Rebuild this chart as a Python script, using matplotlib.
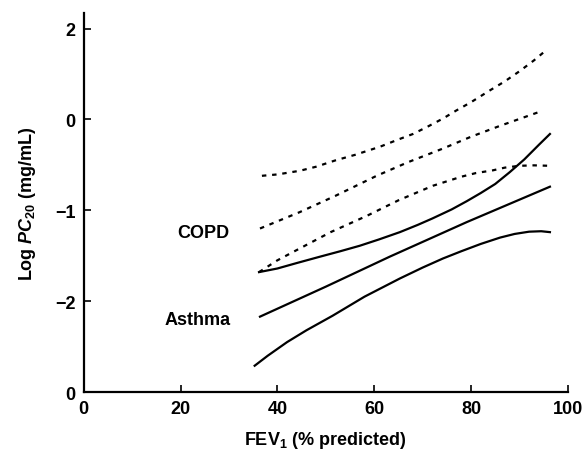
import matplotlib.pyplot as plt

# Data (FEV1 % predicted vs log PC20)
copd_upper_x = [36.8, 40, 44.6, 48, 52, 56, 61.2, 65, 68, 71, 74.2, 77, 80, 83.9, 87, 90, 93, 95.7]
copd_upper_y = [-0.62, -0.605, -0.565, -0.52, -0.45, -0.39, -0.30, -0.22, -0.16, -0.08,
                0.01, 0.10, 0.19, 0.32, 0.42, 0.53, 0.65, 0.77]
copd_mean_x = [36.4, 44.6, 52, 60.5, 67, 74.2, 80, 86, 94.2]
copd_mean_y = [-1.20, -1.02, -0.84, -0.62, -0.47, -0.32, -0.19, -0.07, 0.085]
copd_lower_x = [36.2, 40, 44.6, 51, 58.5, 65, 72.1, 78, 81, 84.5, 87, 90, 93, 96.3]
copd_lower_y = [-1.68, -1.55, -1.42, -1.24, -1.06, -0.89, -0.73, -0.63, -0.59, -0.56,
                -0.53, -0.51, -0.505, -0.51]

asthma_upper_x = [36.2, 40, 44, 48.8, 53, 57, 61, 65.3, 69, 72, 76, 79.1, 82, 85, 88, 91, 94, 96.3]
asthma_upper_y = [-1.68, -1.64, -1.58, -1.51, -1.45, -1.39, -1.32, -1.24, -1.16, -1.09,
                  -0.99, -0.90, -0.81, -0.71, -0.58, -0.44, -0.28, -0.16]
asthma_mean_x = [36.4, 50, 63.2, 79.1, 96.3]
asthma_mean_y = [-2.17, -1.84, -1.51, -1.13, -0.74]
asthma_lower_x = [35.3, 38, 42, 46, 51.4, 58, 65.3, 70, 74.2, 78, 82, 86, 89, 92, 94.5, 96.3]
asthma_lower_y = [-2.71, -2.60, -2.45, -2.32, -2.16, -1.95, -1.75, -1.63, -1.53, -1.45,
                  -1.37, -1.30, -1.26, -1.235, -1.23, -1.24]

x_ticks = [0, 20, 40, 60, 80, 100]
y_ticks = [1, 0, -1, -2, -3]
y_tick_labels = ["2", "0", "\u22121", "\u22122", "0"]

plt.rcParams["font.family"] = ["Liberation Sans", "DejaVu Sans"]
plt.rcParams["font.weight"] = "bold"
plt.rcParams["axes.labelweight"] = "bold"
plt.rcParams["mathtext.fontset"] = "custom"
plt.rcParams["mathtext.rm"] = "Liberation Sans:bold"
plt.rcParams["mathtext.it"] = "Liberation Sans:italic:bold"
plt.rcParams["mathtext.bf"] = "Liberation Sans:bold"

fig = plt.figure(figsize=(5.86, 4.56), dpi=100)
ax = fig.add_axes([0.143, 0.138, 0.826, 0.831])

dotted = (0, (2, 2.6))
ax.plot(copd_upper_x, copd_upper_y, color="black", lw=1.6, linestyle=dotted)
ax.plot(copd_mean_x, copd_mean_y, color="black", lw=1.6, linestyle=dotted)
ax.plot(copd_lower_x, copd_lower_y, color="black", lw=1.6, linestyle=dotted)
ax.plot(asthma_upper_x, asthma_upper_y, color="black", lw=1.6)
ax.plot(asthma_mean_x, asthma_mean_y, color="black", lw=1.6)
ax.plot(asthma_lower_x, asthma_lower_y, color="black", lw=1.6)

ax.text(24.6, -1.24, "COPD", ha="center", va="center", fontsize=13)
ax.text(23.5, -2.20, "Asthma", ha="center", va="center", fontsize=13)

ax.set_xlim(0, 100)
ax.set_ylim(-3, 1.17)
ax.set_xticks(x_ticks)
ax.set_yticks(y_ticks)
ax.set_yticklabels(y_tick_labels)
ax.tick_params(direction="in", length=5, width=1.2, labelsize=13, pad=6)

for side in ["top", "right"]:
    ax.spines[side].set_visible(False)
for side in ["left", "bottom"]:
    ax.spines[side].set_linewidth(1.6)

ax.set_xlabel("FEV$_1$ (% predicted)", fontsize=13, labelpad=8)
ax.set_ylabel("Log $\\mathit{PC}_{20}$ (mg/mL)", fontsize=13, labelpad=12)

fig.savefig("out.png", dpi=100)
